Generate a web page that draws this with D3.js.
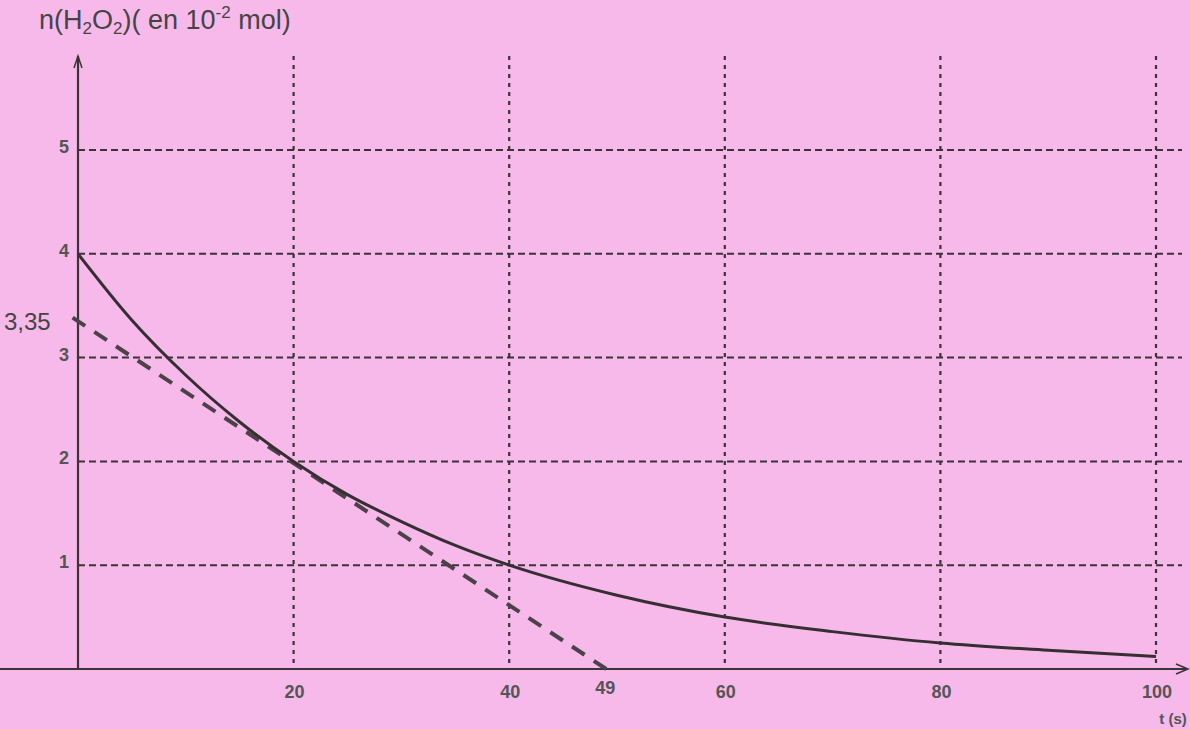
<!DOCTYPE html>
<html>
<head>
<meta charset="utf-8">
<script src="https://cdn.jsdelivr.net/npm/d3@7"></script>
<style>
  html, body { margin: 0; padding: 0; background: #f6b9e9; }
  svg { display: block; }
  .tick-lbl { font-family: "Liberation Sans", Arial, sans-serif; font-weight: bold; font-size: 18px; fill: #555; }
</style>
</head>
<body>
<svg id="chart" width="1190" height="729"></svg>
<script>
// values
const TIMES = [0, 5, 10, 15, 20, 25, 30, 35, 40, 50, 60, 70, 80, 90, 100];
const AMOUNTS = [4, 3.36, 2.83, 2.38, 2, 1.68, 1.42, 1.19, 1, 0.71, 0.5, 0.36, 0.25, 0.18, 0.12];
const TANGENT_T = [-0.5, 49];
const TANGENT_N = [3.385, 0];
const X_TICKS = [20, 40, 60, 80, 100];
const Y_TICKS = [1, 2, 3, 4, 5];

const svg = d3.select('#chart');

const x = d3.scaleLinear().domain([0, 100]).range([78, 1156]);
const y = d3.scaleLinear().domain([0, 5]).range([669, 150]);

const ink = '#3a3338';

// grid
svg.append('g').selectAll('line')
    .data(Y_TICKS)
    .join('line')
    .attr('x1', x(0)).attr('x2', 1182)
    .attr('y1', d => y(d)).attr('y2', d => y(d))
    .attr('stroke', ink).attr('stroke-width', 2)
    .attr('stroke-dasharray', '7,4');

svg.append('g').selectAll('line')
    .data(X_TICKS)
    .join('line')
    .attr('x1', d => x(d)).attr('x2', d => x(d))
    .attr('y1', 56).attr('y2', y(0))
    .attr('stroke', ink).attr('stroke-width', 2.2)
    .attr('stroke-dasharray', '4,5');

// axes
svg.append('line')
    .attr('x1', x(0)).attr('x2', x(0))
    .attr('y1', 56).attr('y2', y(0))
    .attr('stroke', ink).attr('stroke-width', 2.2);
svg.append('path')
    .attr('d', `M${x(0) - 4},68 L${x(0)},56 L${x(0) + 4},68`)
    .attr('fill', 'none').attr('stroke', ink).attr('stroke-width', 1.5);

svg.append('line')
    .attr('x1', 0).attr('x2', 1186)
    .attr('y1', y(0)).attr('y2', y(0))
    .attr('stroke', ink).attr('stroke-width', 2.2);
svg.append('path')
    .attr('d', `M1176,${y(0) - 5} L1188,${y(0)} L1176,${y(0) + 5}`)
    .attr('fill', 'none').attr('stroke', ink).attr('stroke-width', 1.5);

// tick labels
svg.append('g').selectAll('text')
    .data(Y_TICKS)
    .join('text')
    .attr('class', 'tick-lbl')
    .attr('x', x(0) - 9).attr('y', d => y(d) + 3)
    .attr('text-anchor', 'end')
    .text(d => d);

svg.append('g').selectAll('text')
    .data(X_TICKS)
    .join('text')
    .attr('class', 'tick-lbl')
    .attr('x', d => x(d) + 1).attr('y', y(0) + 29)
    .attr('text-anchor', 'middle')
    .text(d => d);

svg.append('text')
    .attr('class', 'tick-lbl')
    .attr('x', x(49) - 1).attr('y', y(0) + 25)
    .attr('text-anchor', 'middle')
    .text('49');

svg.append('text')
    .attr('class', 'tick-lbl')
    .attr('x', 1173).attr('y', 724)
    .attr('text-anchor', 'middle')
    .style('font-size', '15px')
    .text('t (s)');

svg.append('text')
    .attr('x', 4).attr('y', y(3.35) + 9)
    .attr('font-family', '"Liberation Sans", Arial, sans-serif')
    .attr('font-size', 24).attr('fill', '#444')
    .text('3,35');

// axis title
const title = svg.append('text')
    .attr('x', 39).attr('y', 29)
    .attr('font-family', '"Liberation Sans", Arial, sans-serif')
    .attr('font-size', 27).attr('fill', '#444');
title.append('tspan').text('n(H');
title.append('tspan').attr('font-size', 17).attr('dy', 5).text('2');
title.append('tspan').attr('dy', -5).text('O');
title.append('tspan').attr('font-size', 17).attr('dy', 5).text('2');
title.append('tspan').attr('dy', -5).text(')( en 10');
title.append('tspan').attr('font-size', 17).attr('dy', -11).text('-2');
title.append('tspan').attr('dy', 11).text(' mol)');

// tangent
const tangent = TANGENT_T.map((t, i) => [t, TANGENT_N[i]]);
svg.append('path')
    .datum(tangent)
    .attr('d', d3.line().x(d => x(d[0])).y(d => y(d[1])))
    .attr('fill', 'none').attr('stroke', '#4a4248')
    .attr('stroke-width', 4)
    .attr('stroke-dasharray', '15,11');

// decay curve
const curve = TIMES.map((t, i) => [t, AMOUNTS[i]]);
svg.append('path')
    .datum(curve)
    .attr('d', d3.line().curve(d3.curveMonotoneX).x(d => x(d[0])).y(d => y(d[1])))
    .attr('fill', 'none').attr('stroke', '#352e33')
    .attr('stroke-width', 3);
</script>
</body>
</html>
